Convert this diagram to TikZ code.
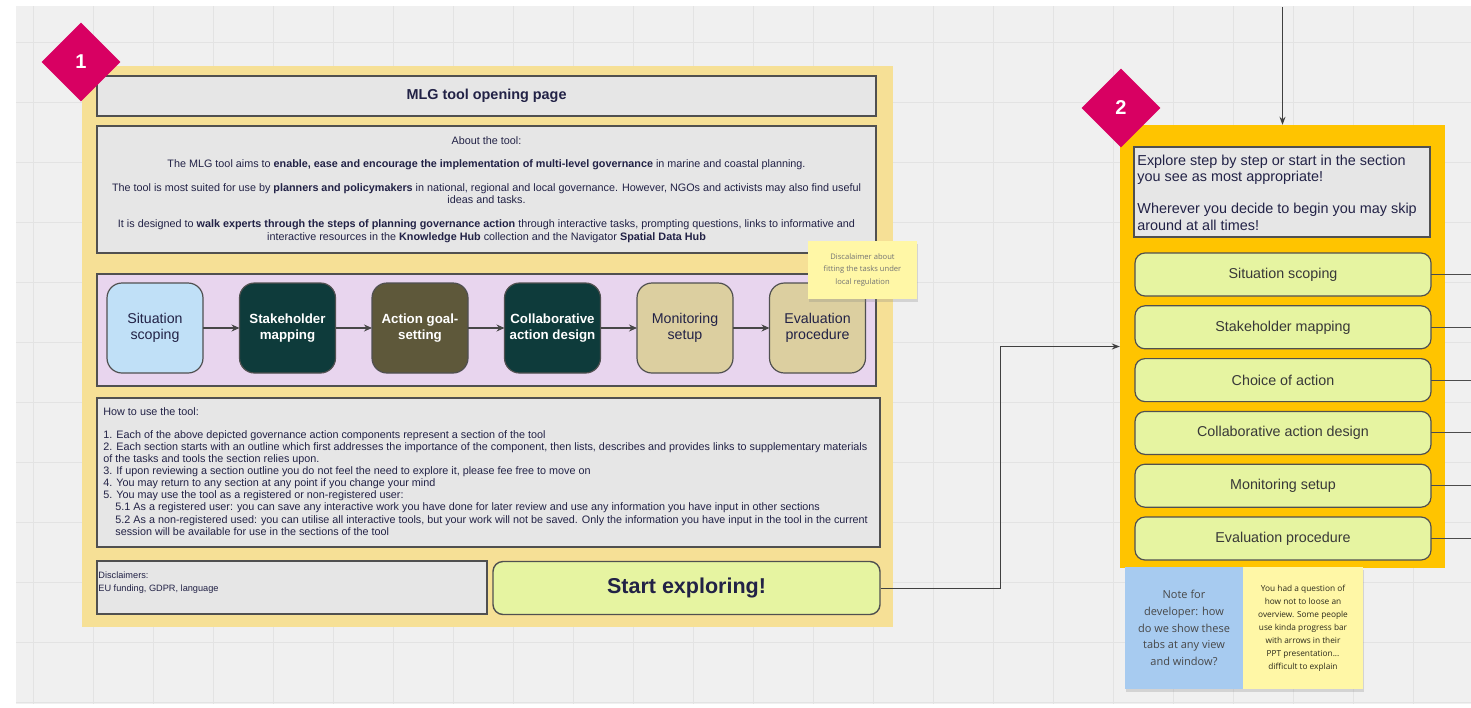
\documentclass[tikz,border=0pt]{standalone}
\usepackage{fontspec}
\setmainfont{Liberation Sans}
\newfontfamily\stickyfont{Open Sans}
\usetikzlibrary{positioning}
\usetikzlibrary{shapes.geometric}
\usetikzlibrary{arrows.meta}
\usetikzlibrary{shadows}

\definecolor{canvasgrey}{RGB}{240,240,240}
\definecolor{gridgrey}{RGB}{227,227,227}
\definecolor{paleyellow}{RGB}{246,224,150}
\definecolor{amber}{RGB}{255,196,0}
\definecolor{boxgrey}{RGB}{230,230,230}
\definecolor{edgegrey}{RGB}{80,80,80}
\definecolor{lavender}{RGB}{232,213,238}
\definecolor{skyblue}{RGB}{192,224,247}
\definecolor{darkteal}{RGB}{14,59,59}
\definecolor{olivebrown}{RGB}{94,88,58}
\definecolor{sandtan}{RGB}{220,207,160}
\definecolor{lime}{RGB}{230,244,161}
\definecolor{badgepink}{RGB}{216,0,98}
\definecolor{inkblue}{RGB}{34,34,70}
\definecolor{stickyyellow}{RGB}{255,247,166}
\definecolor{stickyblue}{RGB}{167,203,240}

\tikzset{
  gridline/.style={draw=gridgrey, line width=0.8pt},
  greybox/.style={draw=edgegrey, line width=1.6pt, fill=boxgrey, inner sep=0pt, text=inkblue},
  stage/.style={draw=edgegrey, line width=1.2pt, rounded corners=15pt, minimum width=96pt, minimum height=90pt, inner sep=0pt, outer sep=0pt, align=center, text=inkblue, font=\fontsize{14.2}{16}\selectfont},
  darkstage/.style={stage, fill=darkteal, text=white, font=\bfseries\fontsize{13.3}{16}\selectfont},
  tab/.style={draw=edgegrey, line width=1.2pt, fill=lime, rounded corners=10pt, minimum width=296pt, minimum height=43pt, inner sep=0pt, outer sep=0pt, text=black!78, font=\fontsize{14.3}{16}\selectfont},
  badge/.style={diamond, aspect=1, fill=badgepink, minimum width=79pt, minimum height=79pt, inner sep=0pt, text=white, font=\bfseries\fontsize{20}{22}\selectfont},
  sticky/.style={inner sep=0pt, outer sep=0pt, align=center, drop shadow={shadow xshift=1pt, shadow yshift=-3pt, opacity=0.25}},
  flow/.style={draw=black!72, line width=1.4pt, -{Stealth[length=8pt, width=7pt]}},
  link/.style={draw=black!75, line width=1pt, -{Stealth[length=8pt, width=6pt]}},
  tabline/.style={draw=black!70, line width=1pt}
}

\begin{document}
\begin{tikzpicture}[x=1pt, y=-1pt]

\useasboundingbox (0,0) rectangle (1471,707);
\fill[white] (0,0) rectangle (1471,707);
\fill[canvasgrey] (16,6) rectangle (1471,704);
\foreach \gx in {33,93,...,1473} \draw[gridline] (\gx,6) -- (\gx,704);
\foreach \gy in {42,102,...,702} \draw[gridline] (16,\gy) -- (1471,\gy);

\node[fill=paleyellow, minimum width=811pt, minimum height=561pt, inner sep=0pt] (panelA) at (487.5,346.5) {};
\node[greybox, minimum width=779pt, minimum height=40pt, font=\bfseries\fontsize{14.4}{16}\selectfont] (title) at (486.5,96) {MLG tool opening page};
\node[greybox, minimum width=779pt, minimum height=127pt, align=center, font=\fontsize{10.8}{12.8}\selectfont] (about) at (486.5,189.5) {About the tool:\\[10.5pt]
The MLG tool aims to \textbf{enable, ease and encourage the implementation of multi-level governance} in marine and coastal planning.\\[10.5pt]
The tool is most suited for use by \textbf{planners and policymakers} in national, regional and local governance. However, NGOs and activists may also find useful\\
ideas and tasks.\\[10.5pt]
It is designed to \textbf{walk experts through the steps of planning governance action} through interactive tasks, prompting questions, links to informative and\\
interactive resources in the \textbf{Knowledge Hub} collection and the Navigator \textbf{Spatial Data Hub}};

\node[draw=edgegrey, line width=1.6pt, fill=lavender, minimum width=779pt, minimum height=112pt, inner sep=0pt] (band) at (486.5,330) {};
\node[stage, fill=skyblue] (scoping) at (155,328) {Situation\\scoping};
\node[darkstage, right=36.5pt of scoping] (mapping) {Stakeholder\\mapping};
\node[darkstage, fill=olivebrown, right=36.5pt of mapping] (goals) {Action goal-\\setting};
\node[darkstage, right=36.5pt of goals] (design) {Collaborative\\action design};
\node[stage, fill=sandtan, right=36.5pt of design] (monitoring) {Monitoring\\setup};
\node[stage, fill=sandtan, right=36.5pt of monitoring] (evaluation) {Evaluation\\procedure};

\draw[flow] (scoping) -- (mapping);
\draw[flow] (mapping) -- (goals);
\draw[flow] (goals) -- (design);
\draw[flow] (design) -- (monitoring);
\draw[flow] (monitoring) -- (evaluation);

\node[sticky, fill=stickyyellow, minimum width=109pt, minimum height=58pt, text=black!55, font=\stickyfont\fontsize{7.6}{12.4}\selectfont] (localnote) at (862.5,270) {Discalaimer about\\fitting the tasks under\\local regulation};

\node[greybox, minimum width=783pt, minimum height=149pt] (howto) at (488.5,472.5) {};
\node[anchor=north west, inner sep=0pt, align=left, text=inkblue, font=\fontsize{10.8}{12.1}\selectfont] (howtotext) at ([xshift=7pt, yshift=-10pt]howto.north west) {How to use the tool:\\[11pt]
1. Each of the above depicted governance action components represent a section of the tool\\
2. Each section starts with an outline which first addresses the importance of the component, then lists, describes and provides links to supplementary materials\\
of the tasks and tools the section relies upon.\\
3. If upon reviewing a section outline you do not feel the need to explore it, please fee free to move on\\
4. You may return to any section at any point if you change your mind\\
5. You may use the tool as a registered or non-registered user:\\
\hspace*{12pt}5.1 As a registered user: you can save any interactive work you have done for later review and use any information you have input in other sections\\
\hspace*{12pt}5.2 As a non-registered used: you can utilise all interactive tools, but your work will not be saved. Only the information you have input in the tool in the current\\
\hspace*{12pt}session will be available for use in the sections of the tool};

\node[greybox, minimum width=390pt, minimum height=53pt] (disclaimers) at (292,587.5) {};
\node[anchor=north west, inner sep=0pt, align=left, text=inkblue, font=\fontsize{9.2}{13}\selectfont] (disclaimerstext) at ([xshift=2pt, yshift=-11pt]disclaimers.north west) {Disclaimers:\\EU funding, GDPR, language};
\node[draw=edgegrey, line width=1.4pt, fill=lime, rounded corners=10pt, minimum width=387pt, minimum height=53pt, inner sep=0pt, text=inkblue, font=\bfseries\fontsize{21.5}{24}\selectfont] (start) at (686.5,588) {Start exploring!};

\node[fill=amber, minimum width=325pt, minimum height=443pt, inner sep=0pt] (panelB) at (1282.5,346.5) {};
\node[greybox, minimum width=296pt, minimum height=90pt] (intro) at (1282,192) {};
\node[anchor=north west, inner sep=0pt, align=left, text=inkblue, font=\fontsize{14.4}{16.3}\selectfont] (introtext) at ([xshift=4pt, yshift=-8.5pt]intro.north west) {Explore step by step or start in the section\\you see as most appropriate!\\[16pt]Wherever you decide to begin you may skip\\around at all times!};

\node[tab] (scopingtab) at (1283,274.5) {Situation scoping};
\node[tab, below=9.8pt of scopingtab] (mappingtab) {Stakeholder mapping};
\node[tab, below=9.8pt of mappingtab] (choicetab) {Choice of action};
\node[tab, below=9.8pt of choicetab] (designtab) {Collaborative action design};
\node[tab, below=9.8pt of designtab] (monitoringtab) {Monitoring setup};
\node[tab, below=9.8pt of monitoringtab] (evaluationtab) {Evaluation procedure};

\coordinate (rightedge) at (1471,0);
\coordinate (topfeed) at (1282.5,7);
\draw[tabline] (scopingtab.east) -- (scopingtab.east -| rightedge);
\draw[tabline] (mappingtab.east) -- (mappingtab.east -| rightedge);
\draw[tabline] (choicetab.east) -- (choicetab.east -| rightedge);
\draw[tabline] (designtab.east) -- (designtab.east -| rightedge);
\draw[tabline] (monitoringtab.east) -- (monitoringtab.east -| rightedge);
\draw[tabline] (evaluationtab.east) -- (evaluationtab.east -| rightedge);

\draw[link] (topfeed) -- (panelB.north);
\draw[link] (start.east) -- ++(120,0) |- (panelB.west);

\node[sticky, fill=stickyblue, minimum width=118pt, minimum height=122pt, text=black!72, font=\stickyfont\fontsize{11}{16.7}\selectfont] (devnote) at (1184,628) {Note for\\developer: how\\do we show these\\tabs at any view\\and window?};
\node[sticky, fill=stickyyellow, minimum width=120pt, minimum height=122pt, right=0pt of devnote, text=black!55!olivebrown, font=\stickyfont\fontsize{8.3}{13}\selectfont] (tipnote) {You had a question of\\how not to loose an\\overview. Some people\\use kinda progress bar\\with arrows in their\\PPT presentation...\\difficult to explain};

\node[badge] (badgeA) at (81,62) {1};
\node[badge] (badgeB) at (1121,108) {2};

\end{tikzpicture}
\end{document}
